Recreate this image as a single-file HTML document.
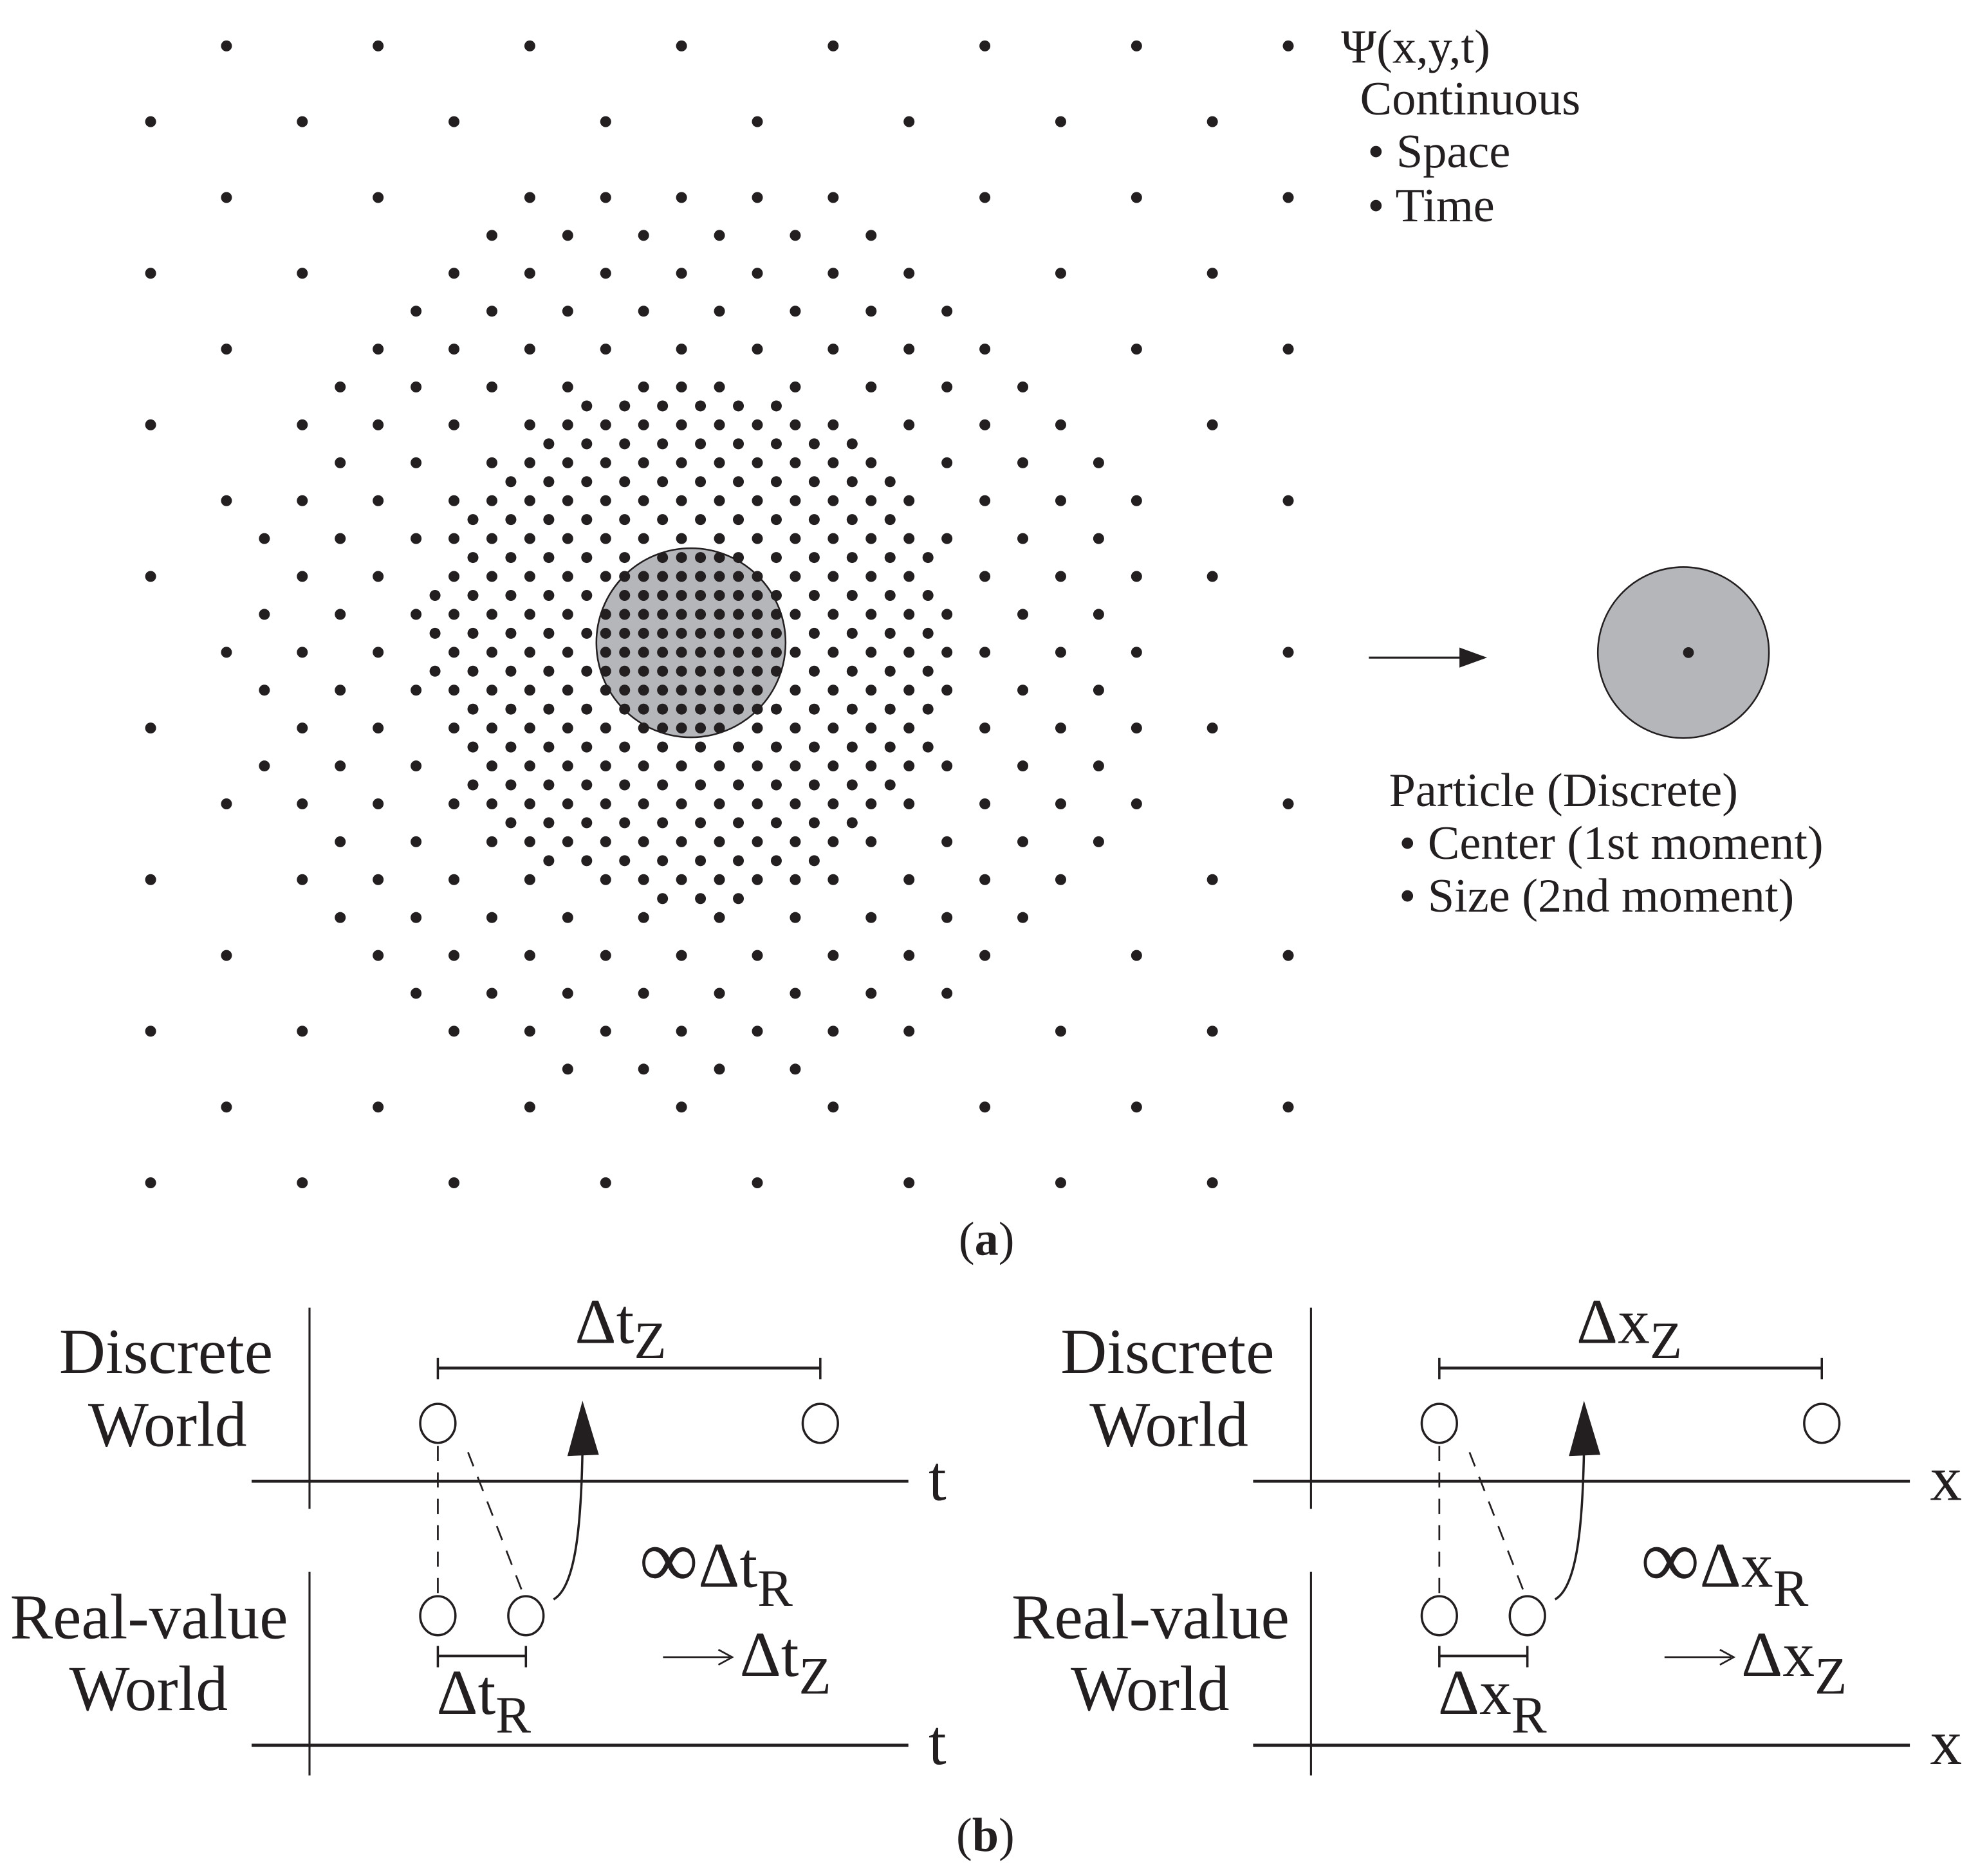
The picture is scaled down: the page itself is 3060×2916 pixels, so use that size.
<!DOCTYPE html>
<html><head><meta charset="utf-8">
<style>
html,body{margin:0;padding:0;background:#fff;}
svg{display:block;}
text{font-family:"Liberation Serif","DejaVu Serif",serif;fill:#231f20;}
</style></head>
<body>
<svg id="s" xmlns="http://www.w3.org/2000/svg" width="3060" height="2916" viewBox="0 0 1565 1492" preserveAspectRatio="none">
<g id="dots" fill="#231f20"></g>
<circle cx="549.2" cy="511.2" r="75.2" fill="#b4b6b9" stroke="none"/>
<g id="dots2" fill="#231f20"></g>
<circle cx="549.2" cy="511.2" r="75.2" fill="none" stroke="#231f20" stroke-width="1.3"/>

<text x="1066" y="50" font-size="38">Ψ(x,y,t)</text>
<text x="1081" y="91" font-size="38">Continuous</text>
<text x="1087" y="133" font-size="38">• Space</text>
<text x="1087" y="176" font-size="38">• Time</text>

<line x1="1088" y1="523" x2="1162" y2="523" stroke="#231f20" stroke-width="1.6"/>
<polygon points="1182,523 1160,515 1160,531" fill="#231f20"/>
<circle cx="1338" cy="519" r="68" fill="#b4b6b9" stroke="#231f20" stroke-width="1.3"/>
<circle cx="1342" cy="519" r="4.3" fill="#231f20"/>
<text x="1104" y="641" font-size="38">Particle (Discrete)</text>
<text x="1112" y="683" font-size="38">•  Center (1st moment)</text>
<text x="1112" y="725" font-size="38">•  Size (2nd moment)</text>

<text x="762" y="998" font-size="38">(<tspan font-weight="bold">a</tspan>)</text>

<g id="p1" stroke="#231f20" fill="none">
  <line x1="246" y1="1040" x2="246" y2="1200" stroke-width="1.6"/>
  <line x1="246" y1="1250" x2="246" y2="1412" stroke-width="1.6"/>
  <line x1="200" y1="1178" x2="722" y2="1178" stroke-width="2.4"/>
  <line x1="200" y1="1388" x2="722" y2="1388" stroke-width="2.4"/>
  <line x1="348" y1="1088" x2="652" y2="1088" stroke-width="2.2"/>
  <line x1="348" y1="1080" x2="348" y2="1097" stroke-width="1.8"/>
  <line x1="652" y1="1080" x2="652" y2="1097" stroke-width="1.8"/>
  <ellipse cx="348" cy="1132" rx="14" ry="15.5" stroke-width="1.8"/>
  <ellipse cx="652" cy="1132" rx="14" ry="15.5" stroke-width="1.8"/>
  <ellipse cx="348" cy="1285" rx="14" ry="15.5" stroke-width="1.8"/>
  <ellipse cx="418" cy="1285" rx="14" ry="15.5" stroke-width="1.8"/>
  <line x1="348" y1="1150" x2="348" y2="1268" stroke-width="1.4" stroke-dasharray="12,9"/>
  <line x1="372" y1="1155" x2="416" y2="1268" stroke-width="1.4" stroke-dasharray="12,9"/>
  <line x1="348" y1="1317" x2="418" y2="1317" stroke-width="2.2"/>
  <line x1="348" y1="1309" x2="348" y2="1326" stroke-width="1.8"/>
  <line x1="418" y1="1309" x2="418" y2="1326" stroke-width="1.8"/>
  <path d="M440,1272 C458,1262 462,1210 463,1152" stroke-width="1.8"/>
  <polygon points="463,1114 451,1158 476,1157" fill="#231f20" stroke="none"/>
  <line x1="527" y1="1318" x2="580" y2="1318" stroke-width="1.4"/>
  <polyline points="571,1312 582,1318 571,1324" stroke-width="1.4"/>
</g>
<use href="#p1" x="796" y="0"/>

<g font-size="51">
<text x="47" y="1092">Discrete</text>
<text x="70" y="1150">World</text>
<text x="8" y="1303">Real-value</text>
<text x="55" y="1360">World</text>
<text x="738" y="1193">t</text>
<text x="738" y="1403">t</text>
<text x="457" y="1068">Δt<tspan font-size="42" dy="12">Z</tspan></text>
<text x="347" y="1363">Δt<tspan font-size="42" dy="15">R</tspan></text>
<text x="508" y="1262"><tspan font-size="66">∞</tspan>Δt<tspan font-size="42" dy="15">R</tspan></text>
<text x="588" y="1333">Δt<tspan font-size="42" dy="14">Z</tspan></text>

<text x="843" y="1092">Discrete</text>
<text x="866" y="1150">World</text>
<text x="804" y="1303">Real-value</text>
<text x="851" y="1360">World</text>
<text x="1534" y="1193">x</text>
<text x="1534" y="1403">x</text>
<text x="1253" y="1068">Δx<tspan font-size="42" dy="12">Z</tspan></text>
<text x="1143" y="1363">Δx<tspan font-size="42" dy="15">R</tspan></text>
<text x="1304" y="1262"><tspan font-size="66">∞</tspan>Δx<tspan font-size="42" dy="15">R</tspan></text>
<text x="1384" y="1333">Δx<tspan font-size="42" dy="14">Z</tspan></text>
</g>
<text x="760" y="1472" font-size="38">(<tspan font-weight="bold">b</tspan>)</text>
</svg>
<script>
(function(){
var NS="http://www.w3.org/2000/svg";
var g=document.getElementById('dots'), g2=document.getElementById('dots2');
var ox=180, oy=36.5, c=15.07, ca=24.5, cb=31.5, r=4.35;
function m(v,n){return ((v%n)+n)%n;}
for(var b=0;b<=60;b++){
 for(var a=-4;a<=56;a++){
  var d=Math.sqrt((a-ca)*(a-ca)+(b-cb)*(b-cb));
  var on=false;
  if(m(a,4)==0&&m(b,4)==0&&m(a-b,8)==0) on=true;
  else if(d<=24.2&&m(a,2)==0&&m(b,2)==0&&m(a-b,4)==0) on=true;
  else if(d<=13.8&&m(a-b,2)==0) on=true;
  else if(d<=5.1){on=true;}
  if(!on) continue;
  var e=document.createElementNS(NS,'circle');
  e.setAttribute('cx',(ox+a*c).toFixed(2));
  e.setAttribute('cy',(oy+b*c).toFixed(2));
  e.setAttribute('r',r);
  (d<=5.6?g2:g).appendChild(e);
 }
}
})();
</script>
</body></html>
